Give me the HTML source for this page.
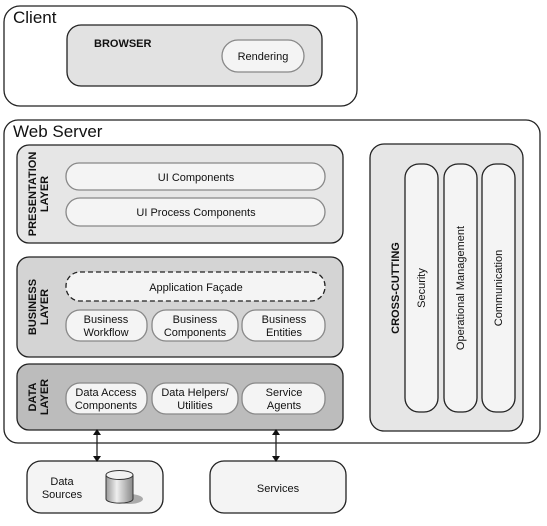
<!DOCTYPE html>
<html><head><style>body{margin:0;background:#fff}svg{display:block}text{font-family:"Liberation Sans",sans-serif;fill:#111}</style></head><body>
<svg width="547" height="526" viewBox="0 0 547 526" xmlns="http://www.w3.org/2000/svg">
<defs><linearGradient id="cyl" x1="0" x2="1"><stop offset="0" stop-color="#999"/><stop offset="0.4" stop-color="#eee"/><stop offset="1" stop-color="#888"/></linearGradient></defs>
<g stroke="#222" stroke-width="1.3">
<rect x="4" y="6" width="353" height="100" rx="16" fill="#fff"/>
<rect x="67" y="25" width="255" height="61" rx="14" fill="#e2e2e2"/>
<rect x="222" y="40" width="82" height="32" rx="16" fill="#f4f4f4" stroke="#888"/>
<rect x="4" y="120" width="536" height="323" rx="14" fill="#fff"/>
<rect x="17" y="145" width="326" height="98" rx="12" fill="#e6e6e6"/>
<rect x="66" y="163" width="259" height="27" rx="13" fill="#f4f4f4" stroke="#888"/>
<rect x="66" y="198" width="259" height="28" rx="14" fill="#f4f4f4" stroke="#888"/>
<rect x="17" y="257" width="326" height="100" rx="12" fill="#d4d4d4"/>
<rect x="66" y="272" width="259" height="29" rx="14" fill="#f4f4f4" stroke-dasharray="5,3"/>
<rect x="66" y="310" width="81" height="31" rx="14" fill="#f4f4f4" stroke="#888"/>
<rect x="152" y="310" width="86" height="31" rx="14" fill="#f4f4f4" stroke="#888"/>
<rect x="242" y="310" width="83" height="31" rx="14" fill="#f4f4f4" stroke="#888"/>
<rect x="17" y="364" width="326" height="66" rx="12" fill="#bcbcbc"/>
<rect x="66" y="383" width="81" height="31" rx="14" fill="#f4f4f4" stroke="#888"/>
<rect x="152" y="383" width="86" height="31" rx="14" fill="#f4f4f4" stroke="#888"/>
<rect x="242" y="383" width="83" height="31" rx="14" fill="#f4f4f4" stroke="#888"/>
<rect x="370" y="144" width="153" height="287" rx="14" fill="#e6e6e6"/>
<rect x="405" y="164" width="33" height="248" rx="14" fill="#f4f4f4"/>
<rect x="444" y="164" width="33" height="248" rx="14" fill="#f4f4f4"/>
<rect x="482" y="164" width="33" height="248" rx="14" fill="#f4f4f4"/>
<rect x="27" y="461" width="136" height="52" rx="14" fill="#f4f4f4"/>
<rect x="210" y="461" width="136" height="52" rx="14" fill="#f4f4f4"/>
<line x1="97" y1="433" x2="97" y2="458"/><line x1="276" y1="433" x2="276" y2="458"/>
</g>
<g fill="#111"><path d="M97 429l-4 6h8z"/><path d="M97 462l-4-6h8z"/><path d="M276 429l-4 6h8z"/><path d="M276 462l-4-6h8z"/></g>
<ellipse cx="129" cy="499" rx="14" ry="5" fill="#aaa"/>
<path d="M106 475v24a13 4 0 0 0 27 0v-24z" fill="url(#cyl)" stroke="#333"/>
<ellipse cx="119.5" cy="475" rx="13.5" ry="4.5" fill="#f2f2f2" stroke="#333"/>
<text x="13" y="23" font-size="17">Client</text>
<text x="13" y="137" font-size="17">Web Server</text>
<text x="94" y="47" font-size="11" font-weight="bold">BROWSER</text>
<g font-size="11" text-anchor="middle">
<text x="263" y="60">Rendering</text>
<text x="196" y="181">UI Components</text>
<text x="196" y="216">UI Process Components</text>
<text x="196" y="291">Application Façade</text>
<text x="106" y="323">Business</text><text x="106" y="336">Workflow</text>
<text x="195" y="323">Business</text><text x="195" y="336">Components</text>
<text x="284" y="323">Business</text><text x="284" y="336">Entities</text>
<text x="106" y="396">Data Access</text><text x="106" y="409">Components</text>
<text x="195" y="396">Data Helpers/</text><text x="195" y="409">Utilities</text>
<text x="284" y="396">Service</text><text x="284" y="409">Agents</text>
<text x="278" y="492">Services</text>
<text x="62" y="485">Data</text><text x="62" y="498">Sources</text>
<text transform="translate(425,288) rotate(-90)">Security</text>
<text transform="translate(464,288) rotate(-90)">Operational Management</text>
<text transform="translate(502,288) rotate(-90)">Communication</text>
</g>
<g font-size="11" font-weight="bold" text-anchor="middle">
<text transform="translate(36,194) rotate(-90)">PRESENTATION</text>
<text transform="translate(48,194) rotate(-90)">LAYER</text>
<text transform="translate(36,307) rotate(-90)">BUSINESS</text>
<text transform="translate(48,307) rotate(-90)">LAYER</text>
<text transform="translate(36,397) rotate(-90)">DATA</text>
<text transform="translate(48,397) rotate(-90)">LAYER</text>
<text transform="translate(399,288) rotate(-90)">CROSS-CUTTING</text>
</g>
</svg>
</body></html>
